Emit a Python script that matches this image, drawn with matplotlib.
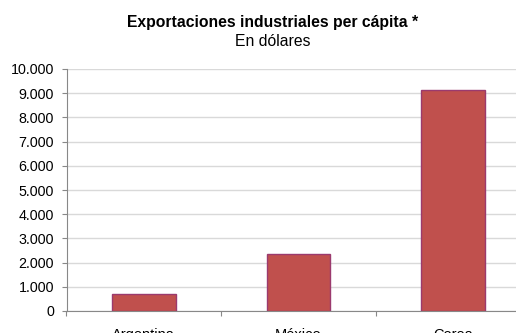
import matplotlib.pyplot as plt
from matplotlib.ticker import FuncFormatter

plt.rcParams['font.family'] = ['Liberation Sans', 'DejaVu Sans']

paises = ["Argentina", "México", "Corea"]
valores = [700, 2350, 9130]

fig = plt.figure(figsize=(5.16, 3.33), dpi=100)
ax = fig.add_axes([66.5 / 516, 1 - 311 / 333, 464 / 516, 242 / 333])

x = range(len(paises))
ax.bar(x, valores, width=0.41, color="#C0504D", edgecolor="#9B3A6E", linewidth=1, zorder=3)

ax.set_xlim(-0.5, 2.5)
ax.set_ylim(0, 10000)
ax.set_yticks(range(0, 10001, 1000))
ax.yaxis.set_major_formatter(FuncFormatter(lambda v, p: f"{int(v):,}".replace(",", ".")))
ax.set_xticks([-0.5, 0.5, 1.5, 2.5])
ax.set_xticklabels([])
ax.set_xticks(list(x), minor=True)
ax.set_xticklabels(paises, minor=True)
ax.tick_params(axis="x", which="minor", length=0, pad=12, labelsize=10.5)
ax.tick_params(axis="x", which="major", length=3.5, color="#888888")
ax.tick_params(axis="y", length=3.5, color="#888888", labelsize=10.3, pad=5.5)

ax.grid(axis="y", color="#D9D9D9", linewidth=1, zorder=0)
for s in ["top", "right"]:
    ax.spines[s].set_visible(False)
for s in ["left", "bottom"]:
    ax.spines[s].set_color("#888888")

fig.text(273 / 516, 1 - 22 / 333, "Exportaciones industriales per cápita *", ha="center", va="center",
         fontsize=11.3, fontweight="bold")
fig.text(273 / 516, 1 - 41 / 333, "En dólares", ha="center", va="center", fontsize=11.3)

fig.savefig("out.png", dpi=100)
